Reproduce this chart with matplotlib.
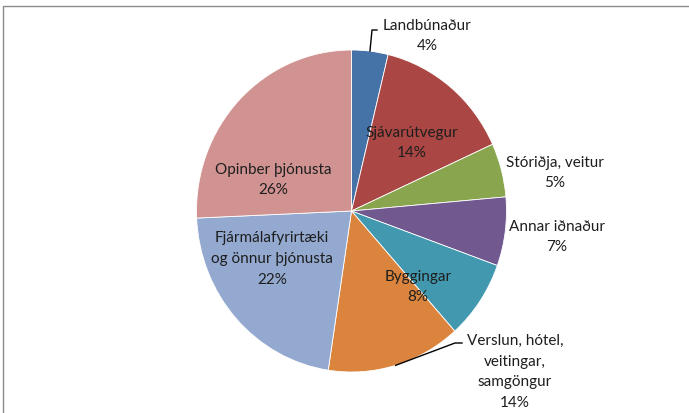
import numpy as np
import matplotlib
matplotlib.use("Agg")
import matplotlib.pyplot as plt
from matplotlib.patches import Rectangle

plt.rcParams['font.family'] = ['Lato', 'DejaVu Sans']

labels = ["Landbúnaður", "Sjávarútvegur", "Stóriðja, veitur", "Annar iðnaður",
          "Byggingar", "Verslun, hótel,\nveitingar,\nsamgöngur",
          "Fjármálafyrirtæki\nog önnur þjónusta", "Opinber þjónusta"]
values = [3.8, 14.4, 5.4, 6.9, 7.9, 14.0, 21.9, 25.7]
colors = ["#4572A7", "#AA4643", "#89A54E", "#71588F",
          "#4198AF", "#DB843D", "#93A9CF", "#D19392"]

W, H = 689, 414
fig = plt.figure(figsize=(W / 100, H / 100), dpi=100)

# chart frame (Excel chart area border)
fig.patches.append(Rectangle((3 / W, -0.1), 1.2, (H - 7) / H + 0.1,
                             transform=fig.transFigure, fill=False,
                             edgecolor="#8a8a8a", linewidth=1.0))

cx, cy, rx, ry = 351.5, 212, 155, 161
ax = fig.add_axes([(cx - rx) / W, (H - cy - ry) / H, 2 * rx / W, 2 * ry / H])
wedges, _ = ax.pie(values, colors=colors, startangle=90, counterclock=False,
                   radius=1, wedgeprops=dict(edgecolor="white", linewidth=0.6))
ax.set_aspect('auto')
ax.set_xlim(-1, 1)
ax.set_ylim(-1, 1)
ax.axis('off')

def px(x, y):
    return ((x - cx) / rx, (cy - y) / ry)

total = sum(values)
# label centres in pixels (layout)
label_pos = [(427, 36), (412, 143), (555, 173), (557, 237),
             (418, 287), (515, 372), (272, 259), (273, 180)]
tc = "#1e1e1e"
for lab, v, (x, y) in zip(labels, values, label_pos):
    X, Y = px(x, y)
    ax.text(X, Y, f"{round(100 * v / total)}%" if False else f"{lab}\n{round(100 * v / total)}%",
            ha="center", va="center", fontsize=11,
            color=tc, linespacing=1.6, clip_on=False)

# leader lines from wedge mid-angle on the edge
def edge(i):
    w = wedges[i]
    a = np.deg2rad((w.theta1 + w.theta2) / 2)
    return np.cos(a), np.sin(a)

ex, ey = edge(0)
e1 = px(372, 31)
e2 = px(377, 31)
ax.plot([ex, e1[0], e2[0]], [ey, e1[1], e2[1]], color="black", lw=1.0, clip_on=False)

ex, ey = edge(5)
v1 = px(455, 344)
v2 = px(462, 344)
ax.plot([ex, v1[0], v2[0]], [ey, v1[1], v2[1]], color="black", lw=1.0, clip_on=False)

fig.savefig("out.png", dpi=100)
